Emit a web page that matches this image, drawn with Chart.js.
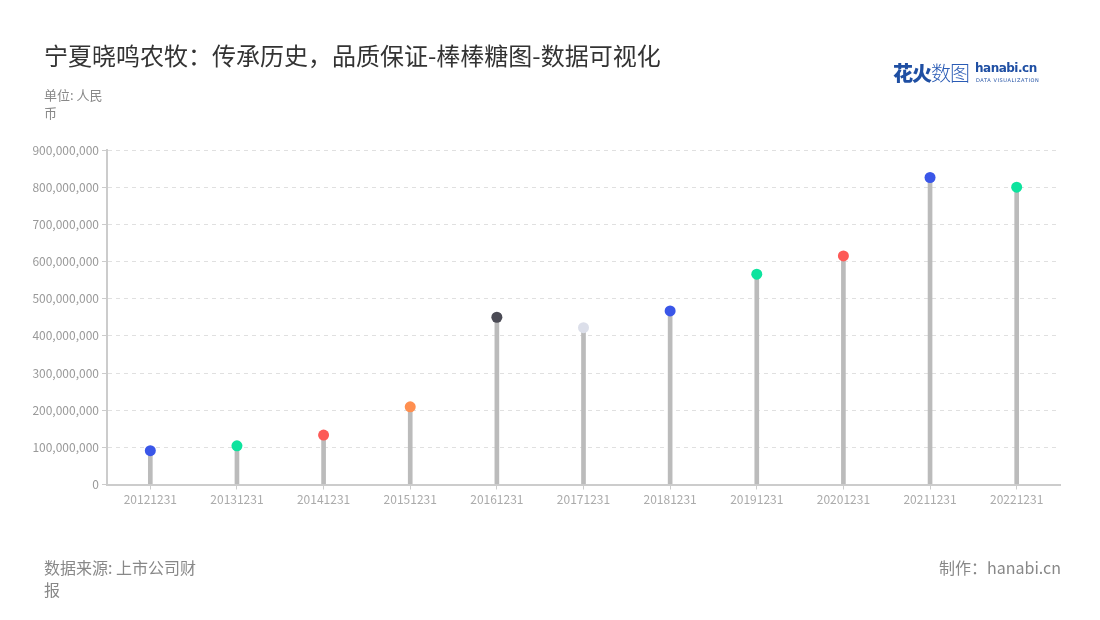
<!DOCTYPE html>
<html>
<head>
<meta charset="utf-8">
<script src="https://cdn.jsdelivr.net/npm/chart.js@4"></script>
<style>
  html, body { margin: 0; padding: 0; background: #fff; }
  body { width: 1100px; height: 620px; position: relative; overflow: hidden; font-family: "Noto Sans CJK SC", "Noto Sans", sans-serif; }
  #wrap { position: absolute; left: 0; top: 0; width: 1100px; height: 620px; }
  .title { position: absolute; left: 44px; top: 38px; font-size: 24px; color: #333; line-height: 34px; white-space: nowrap; }
  .unit { position: absolute; left: 44px; top: 86px; font-size: 13px; color: #888; line-height: 18px; width: 70px; }
  .source { position: absolute; left: 44px; top: 556px; font-size: 16px; color: #888; line-height: 22px; width: 160px; }
  .maker { position: absolute; right: 39px; top: 556px; font-size: 16px; color: #888; line-height: 22px; white-space: nowrap; }
  .logo { position: absolute; left: 893px; top: 58px; height: 30px; white-space: nowrap; }
  .logo .cn1 { font-size: 20px; font-weight: 900; color: #1f4fa3; letter-spacing: -1px; }
  .logo .cn2 { font-size: 20px; font-weight: 300; color: #2a5bb5; letter-spacing: -1px; }
  .logo .en { position: absolute; left: 82px; top: 3px; font-family: "DejaVu Sans", sans-serif; font-size: 12px; font-weight: bold; color: #1f4fa3; letter-spacing: -0.5px; }
  .logo .sub { position: absolute; left: 83px; top: 19px; font-family: "DejaVu Sans", sans-serif; font-size: 5px; color: #1f4fa3; letter-spacing: 0.6px; }
</style>
</head>
<body>
<div id="wrap"><canvas id="c" width="1100" height="620"></canvas></div>
<div class="title">宁夏晓鸣农牧：传承历史，品质保证-棒棒糖图-数据可视化</div>
<div class="unit">单位: 人民币</div>
<div class="source">数据来源: 上市公司财报</div>
<div class="maker">制作：hanabi.cn</div>
<div class="logo"><span class="cn1">花火</span><span class="cn2">数图</span><span class="en">hanabi.cn</span><span class="sub">DATA VISUALIZATION</span></div>
<script>
const categories = ["20121231","20131231","20141231","20151231","20161231","20171231","20181231","20191231","20201231","20211231","20221231"];
const values = [91000000, 104000000, 133000000, 209000000, 450000000, 422000000, 467000000, 566000000, 615000000, 826000000, 800000000];
const pointColors = ["#3a56e8","#0de39e","#fd5a57","#ff8f50","#4b4b55","#dcdfea","#3a56e8","#0de39e","#fd5a57","#3a56e8","#0de39e"];
const yTicks = [0, 100000000, 200000000, 300000000, 400000000, 500000000, 600000000, 700000000, 800000000, 900000000];

const fmt = v => v.toLocaleString('en-US');

new Chart(document.getElementById('c'), {
  data: {
    labels: categories,
    datasets: [
      {
        type: 'line',
        data: values,
        showLine: false,
        pointRadius: 5.5,
        pointHoverRadius: 5.5,
        pointBackgroundColor: pointColors,
        pointBorderColor: pointColors,
        pointBorderWidth: 0,
        order: 0
      },
      {
        type: 'bar',
        data: values,
        backgroundColor: '#bbbbbb',
        barThickness: 4,
        order: 1
      }
    ]
  },
  options: {
    responsive: false,
    animation: false,
    events: [],
    layout: { padding: { top: 150, right: 40, bottom: 105.5, left: 0 } },
    plugins: { legend: { display: false }, tooltip: { enabled: false } },
    scales: {
      x: {
        type: 'category',
        offset: true,
        grid: { display: true, drawOnChartArea: false, drawTicks: true, tickLength: 5, tickColor: '#cccccc', offset: false },
        border: { display: true, color: '#cccccc', width: 2 },
        ticks: { color: '#aaaaaa', font: { family: 'Noto Sans CJK SC', size: 12 }, padding: 3, maxRotation: 0, autoSkip: false },
        afterFit: s => { s.height = 30; }
      },
      y: {
        min: 0,
        max: 900000000,
        afterBuildTicks: s => { s.ticks = yTicks.map(v => ({ value: v })); },
        grid: { color: '#e0e0e0', lineWidth: 1, drawTicks: true, tickLength: 5, tickColor: '#cccccc', tickBorderDash: [] },
        border: { display: true, color: '#cccccc', width: 2, dash: [4, 4] },
        ticks: { color: '#999999', font: { family: 'Noto Sans CJK SC', size: 12 }, padding: 3, callback: v => fmt(v) },
        afterFit: s => { s.width = 107; }
      }
    }
  }
});
</script>
</body>
</html>
